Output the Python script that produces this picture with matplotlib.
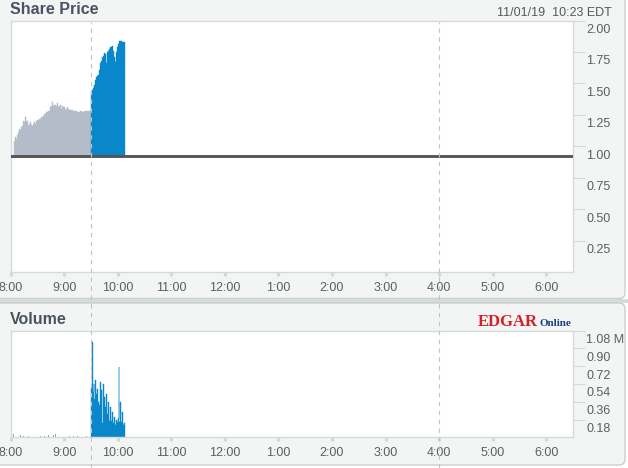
import matplotlib
matplotlib.use("Agg")
import matplotlib.pyplot as plt
from matplotlib.patches import FancyBboxPatch, Rectangle
from matplotlib.transforms import blended_transform_factory, ScaledTranslation

plt.rcParams['font.family'] = ['Liberation Sans', 'DejaVu Sans']

# ---- data (times are minutes after 8:00 AM) ----
prev_close = 0.92

premarket_min = [4, 5, 6, 7, 8, 9, 10, 11, 12, 13, 14, 15, 16, 17, 18, 19, 20, 21, 22, 23,
                 24, 25, 26, 27, 28, 30, 32, 34, 36, 38, 40, 42, 44, 45, 46, 47, 48, 49, 50,
                 51, 52, 53, 54, 55, 56, 57, 58, 59, 60, 61, 62, 63, 64, 66, 68, 70, 72, 74,
                 76, 78, 80, 82, 84, 86, 88, 90]
premarket_price = [1.04, 1.07, 1.06, 1.09, 1.11, 1.12, 1.14, 1.13, 1.15, 1.16, 1.20, 1.19, 1.23,
                   1.20, 1.18, 1.20, 1.16, 1.18, 1.19, 1.17, 1.16, 1.18, 1.19, 1.18, 1.20, 1.21,
                   1.22, 1.23, 1.24, 1.26, 1.27, 1.28, 1.31, 1.32, 1.36, 1.34, 1.32, 1.33, 1.33,
                   1.32, 1.34, 1.31, 1.32, 1.33, 1.31, 1.30, 1.32, 1.31, 1.31, 1.30, 1.29, 1.31,
                   1.30, 1.29, 1.29, 1.28, 1.28, 1.27, 1.27, 1.28, 1.27, 1.28, 1.28, 1.28, 1.28,
                   1.28]

session_min = list(range(90, 129))
session_price = [1.44, 1.45, 1.46, 1.47, 1.49, 1.53, 1.55, 1.56, 1.57, 1.61, 1.66, 1.68, 1.71,
                 1.70, 1.72, 1.74, 1.73, 1.66, 1.75, 1.76, 1.77, 1.79, 1.78, 1.79, 1.80, 1.76,
                 1.71, 1.67, 1.75, 1.79, 1.81, 1.83, 1.84, 1.84, 1.84, 1.83, 1.83, 1.83, 1.83]

premarket_vol_min = [3, 5, 7, 9, 11, 14, 17, 20, 26, 33, 38, 42, 44, 46, 48, 50, 53, 56, 61,
                     66, 70, 75, 80, 85]
premarket_vol = [0.03, 0.02, 0.025, 0.02, 0.02, 0.015, 0.01, 0.01, 0.01, 0.01, 0.015, 0.02,
                 0.03, 0.06, 0.02, 0.03, 0.04, 0.02, 0.01, 0.015, 0.01, 0.01, 0.01, 0.01]

# one-minute volume buckets starting at 9:30 (edges in minutes after 8:00)
session_vol_edges = list(range(90, 129))
session_vol = [0.51, 0.97, 0.46, 0.54, 0.39, 0.58, 0.44, 0.49, 0.36, 0.33, 0.56, 0.48, 0.38,
               0.14, 0.54, 0.41, 0.31, 0.44, 0.24, 0.36, 0.17, 0.31, 0.24, 0.17, 0.26, 0.14,
               0.21, 0.12, 0.18, 0.15, 0.20, 0.71, 0.16, 0.36, 0.16, 0.26, 0.12, 0.14]

hour_ticks = [8, 9, 10, 11, 12, 13, 14, 15, 16, 17, 18]
hour_labels = ['8:00', '9:00', '10:00', '11:00', '12:00', '1:00', '2:00', '3:00', '4:00',
               '5:00', '6:00']
price_ticks = [0.25, 0.50, 0.75, 1.00, 1.25, 1.50, 1.75, 2.00]
price_labels = ['0.25', '0.50', '0.75', '1.00', '1.25', '1.50', '1.75', '2.00']
vol_ticks = [0.18, 0.36, 0.54, 0.72, 0.90, 1.08]
vol_labels = ['0.18', '0.36', '0.54', '0.72', '0.90', '1.08 M']
session_marks = [9.5, 16.0]


def hours(mins):
    return [8 + m / 60 for m in mins]


GRAY_FILL = '#b4bbc9'
BLUE = '#0a87cb'
TEXT = '#5a5f63'
TICK = '#d3d8d8'
FRAME = '#d5dada'
W, H = 628, 468

fig = plt.figure(figsize=(W / 100, H / 100), dpi=100, facecolor='white')

# background panels in pixel coordinates
bg = fig.add_axes([0, 0, 1, 1], zorder=0)
bg.set_xlim(0, W)
bg.set_ylim(H, 0)
bg.axis('off')
bg.add_patch(FancyBboxPatch((-10, -10), 635, 308.5,
                            boxstyle='round,pad=0,rounding_size=6',
                            facecolor='#f3f5f5', edgecolor='#c9cfcf', lw=1.0))
bg.add_patch(Rectangle((-10, 298.5), 640, 4.5, facecolor='#d6dbdb', edgecolor='none'))
bg.add_patch(FancyBboxPatch((-10, 303), 635, 162,
                            boxstyle='round,pad=0,rounding_size=6',
                            facecolor='#f3f5f5', edgecolor='#c9cfcf', lw=1.0))

left = 10.5 / W
width = (573 - 10.5) / W
ax_p = fig.add_axes([left, 1 - 272 / H, width, (272 - 20.5) / H], zorder=1)
ax_v = fig.add_axes([left, 1 - 437.3 / H, width, (437.3 - 330.7) / H], zorder=1)

for ax in (ax_p, ax_v):
    ax.set_facecolor('white')
    ax.set_xlim(8, 18.5)
    for sp in ax.spines.values():
        sp.set_color(FRAME)
        sp.set_linewidth(1.0)
    ax.set_xticks(hour_ticks)
    ax.set_xticklabels(hour_labels)
    ax.tick_params(axis='x', length=3, width=2.2, color=TICK, pad=4,
                   labelsize=9, labelcolor=TEXT)
    ax.yaxis.tick_right()
    ax.tick_params(axis='y', length=8.5, width=0.8, color=TICK, labelright=False,
                   labelleft=False)

# share price
ax_p.set_ylim(0, 2.0)
ax_p.fill_between(hours(premarket_min), prev_close, premarket_price, step='post',
                  facecolor=GRAY_FILL, edgecolor=GRAY_FILL, lw=0.3)
ax_p.fill_between(hours(session_min), prev_close, session_price, step='post',
                  facecolor=BLUE, edgecolor=BLUE, lw=0.3)
ax_p.axhline(prev_close, color='#555555', lw=2.1, zorder=3)
ax_p.set_yticks(price_ticks)

# volume
ax_v.set_ylim(0, 1.08)
ax_v.bar(hours(premarket_vol_min), premarket_vol, width=0.6 / 60, align='edge',
         color='#98a1b3', lw=0)
ax_v.stairs(session_vol, hours(session_vol_edges), fill=True, facecolor=BLUE,
            edgecolor=BLUE, lw=0.3)
ax_v.set_yticks(vol_ticks)

# right-side value labels hang just below their tick marks
for ax, ticks, labels in ((ax_p, price_ticks, price_labels), (ax_v, vol_ticks, vol_labels)):
    tr = blended_transform_factory(ax.transAxes, ax.transData) + \
        ScaledTranslation(0.135, -0.095, fig.dpi_scale_trans)
    for v, s in zip(ticks, labels):
        ax.text(1.0, v, s, transform=tr, ha='left', va='center', fontsize=9,
                color=TEXT, clip_on=False)

# dashed session boundaries across both panels
ov = fig.add_axes([left, 0, width, 1], zorder=5)
ov.set_xlim(8, 18.5)
ov.set_ylim(0, 1)
ov.axis('off')
ov.patch.set_alpha(0)
for t in session_marks:
    ov.axvline(t, ymin=0, ymax=1 - 22 / H, color='#bfc4c4', lw=0.8, dashes=(4, 4))

# titles and header text
fig.text(10 / W, 1 - 9.5 / H, 'Share Price', fontsize=11.5, fontweight='bold',
         color='#4b5361', va='center', ha='left')
fig.text(10 / W, 1 - 320 / H, 'Volume', fontsize=11.5, fontweight='bold',
         color='#4b5361', va='center', ha='left')
fig.text(612 / W, 1 - 12.5 / H, '11/01/19  10:23 EDT', fontsize=9, color='#555a5e',
         ha='right', va='center')
fig.text(478 / W, 1 - 326 / H, 'EDGAR', family='Liberation Serif', fontweight='bold',
         fontsize=12, color='#d4202a', ha='left', va='baseline')
fig.text(540 / W, 1 - 326 / H, 'Online', family='Liberation Serif', fontweight='bold',
         fontsize=8, color='#1b3f8b', ha='left', va='baseline')

fig.savefig('out.png', dpi=100, facecolor=fig.get_facecolor())
